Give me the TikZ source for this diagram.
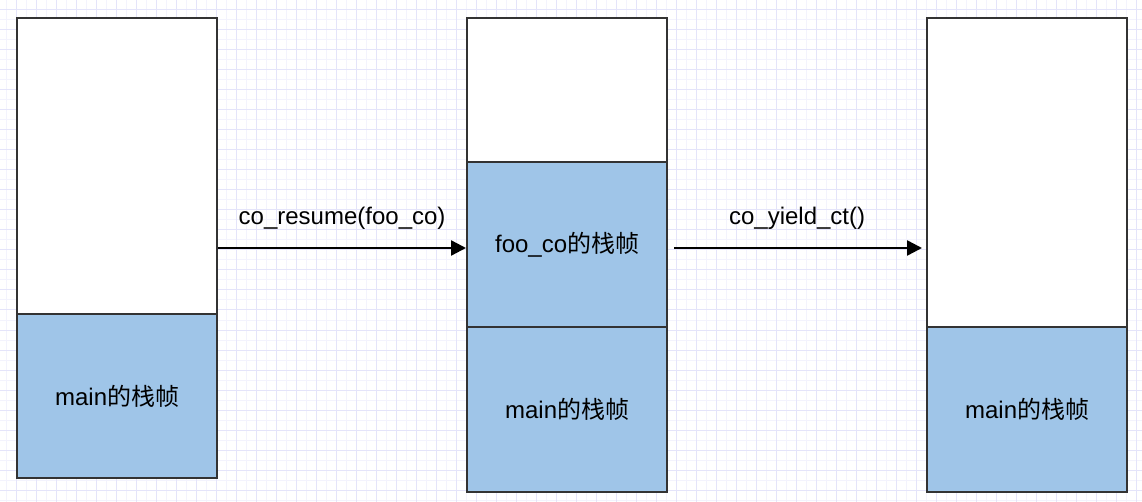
\documentclass[tikz,border=0pt]{standalone}
\usepackage{fontspec}
\setmainfont{Liberation Sans}
\newfontfamily\cjk{Noto Sans CJK SC}
\usetikzlibrary{arrows.meta}
\definecolor{framefill}{HTML}{9FC5E8}
\definecolor{frameline}{HTML}{333333}
\definecolor{gridminor}{HTML}{F3F3FD}
\definecolor{gridmajor}{HTML}{E4E4FA}
\tikzset{
  stackbox/.style={draw=frameline,line width=2.2pt,fill=white,anchor=north west,
    minimum width=200pt,inner sep=0pt},
  framebox/.style={stackbox,fill=framefill},
  flow/.style={line width=2.4pt,-{Triangle[length=15pt,width=15pt]}},
  call/.style={midway,anchor=base,yshift=23pt,inner sep=0pt}
}
\begin{document}
\begin{tikzpicture}[x=1pt,y=-1pt,every node/.style={font=\fontsize{24}{28}\selectfont}]
            \useasboundingbox (0,0) rectangle (1142,502);
            \fill[white] (0,0) rectangle (1142,502);
            % background grid
            \foreach \i in {0,...,114}{
                \draw[gridminor,line width=1pt] (6.7+10*\i,0)--(6.7+10*\i,502);
            }
            \foreach \i in {0,...,50}{
                \draw[gridminor,line width=1pt] (0,10*\i)--(1142,10*\i);
            }
            \foreach \i in {0,...,56}{
                \draw[gridmajor,line width=1pt] (16.7+20*\i,0)--(16.7+20*\i,502);
            }
            \foreach \i in {0,...,24}{
                \draw[gridmajor,line width=1pt] (0,10+20*\i)--(1142,10+20*\i);
            }
            % left stack
            \node[stackbox,minimum height=296pt] (leftfree) at (16,17) {};
            \node[framebox,minimum height=164pt] (leftmain) at (16,313) {main{\cjk 的栈帧}};
            % middle stack
            \node[stackbox,minimum height=144pt] (midfree) at (466,17) {};
            \node[framebox,minimum height=165pt] (midfoo) at (466,161) {foo\_co{\cjk 的栈帧}};
            \node[framebox,minimum height=165pt] (midmain) at (466,326) {main{\cjk 的栈帧}};
            % right stack
            \node[stackbox,minimum height=309pt] (rightfree) at (926,17) {};
            \node[framebox,minimum height=165pt] (rightmain) at (926,326) {main{\cjk 的栈帧}};
            % switches
            \coordinate (level) at (0,248);
            \draw[flow] (leftfree.east |- level) -- node[call]{co\_resume(foo\_co)} (midfoo.west |- level);
            \draw[flow,shorten <=6pt,shorten >=4pt] (midfoo.east |- level) -- node[call]{co\_yield\_ct()} (rightfree.west |- level);
        \end{tikzpicture}
\end{document}
